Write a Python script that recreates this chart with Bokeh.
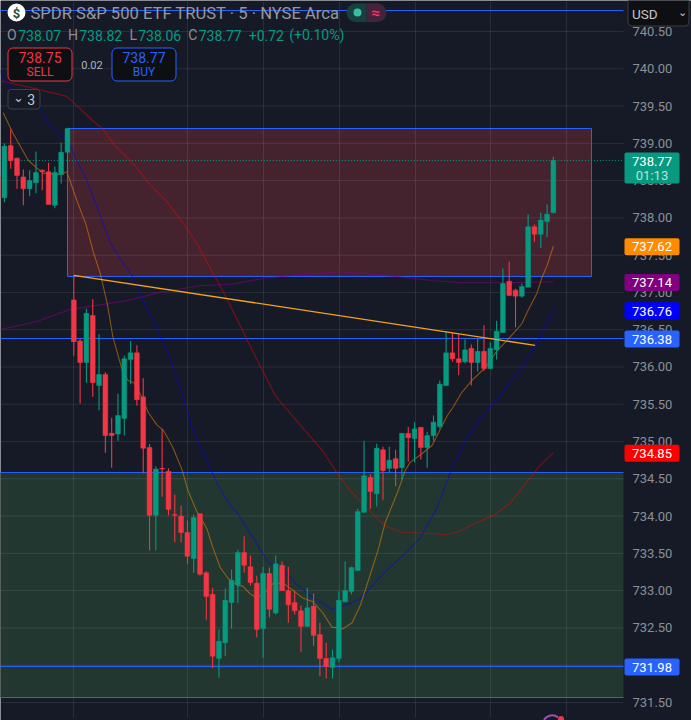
from bokeh.plotting import figure
from bokeh.embed import file_html
from bokeh.resources import INLINE
from bokeh.models import (Range1d, LinearAxis, FixedTicker, NumeralTickFormatter, Label, BoxAnnotation,
                          ColumnDataSource)

FONT = "Roboto"
BG = "#151a26"
GREEN = "#089981"
RED = "#f23645"
BLUE = "#2962ff"

# bar index -1 .. 87
opens = [738.55,738.27,738.97,738.80,738.55,738.39,738.47,738.64,738.62,738.17,738.58,738.88,
         736.90,736.35,736.06,736.69,735.75,735.90,735.11,735.10,735.31,736.10,736.19,735.60,
         734.92,734.01,734.64,734.60,734.02,734.00,733.78,733.43,734.03,733.24,732.95,732.09,
         732.30,732.84,733.08,733.51,733.32,733.10,732.49,733.23,732.70,733.34,733.00,732.84,
         732.73,732.52,732.79,732.41,732.09,731.97,732.09,732.85,732.99,733.27,734.05,734.52,
         734.30,734.89,734.64,734.77,734.65,735.11,735.04,735.19,734.92,735.08,735.20,735.75,
         736.19,736.11,736.07,736.25,736.06,736.21,735.98,736.23,736.46,737.15,737.03,736.95,
         737.07,737.88,737.78,737.95,738.07]
highs = [738.61,739.00,739.19,738.81,738.65,738.64,738.89,738.65,738.74,738.69,739.01,739.21,
         737.23,736.38,736.78,736.91,736.44,735.93,735.32,735.64,736.15,736.35,736.29,735.85,
         734.97,734.67,735.17,734.64,734.29,734.14,733.94,734.02,734.03,733.26,733.04,732.48,
         733.03,733.28,733.55,733.73,733.47,733.20,733.32,733.31,733.47,733.39,733.32,733.00,
         732.80,733.04,732.96,732.57,732.30,732.21,732.99,733.39,733.32,734.10,735.01,734.56,
         734.97,734.93,734.93,734.89,735.11,735.20,735.26,735.19,735.13,735.35,735.82,736.48,
         736.46,736.44,736.37,736.30,736.38,736.56,736.33,736.62,737.32,737.41,737.05,737.12,
         738.05,737.91,738.07,738.18,738.82]
lows = [738.23,738.21,738.66,738.39,738.17,738.29,738.33,738.37,738.18,738.13,738.46,738.58,
        736.15,735.51,735.79,735.60,735.42,734.85,734.65,735.01,735.08,735.77,735.48,734.57,
        733.54,733.54,734.26,734.01,733.65,733.65,733.36,733.24,733.20,732.61,731.96,731.83,
        732.12,732.49,732.83,733.24,733.07,732.37,732.10,732.64,732.68,733.00,732.57,732.68,
        732.18,732.52,732.26,731.85,731.82,731.82,732.04,732.85,732.95,733.27,734.05,734.10,
        734.13,734.22,734.58,734.40,734.49,734.73,734.72,734.76,734.65,735.01,735.17,735.75,
        736.07,735.89,736.05,735.75,735.94,735.95,735.98,736.10,736.46,736.95,736.53,736.93,
        737.07,737.68,737.60,737.74,738.06]
closes = [738.27,738.96,738.77,738.57,738.39,738.50,738.61,738.62,738.18,738.61,738.88,739.20,
          736.34,736.06,736.72,735.79,735.90,735.08,735.08,735.35,736.11,736.19,735.56,734.91,
          734.01,734.63,734.63,734.09,734.01,733.78,733.46,733.98,733.22,732.92,732.12,732.32,
          732.87,733.14,733.51,733.34,733.11,732.48,733.23,732.75,733.36,733.00,732.81,732.73,
          732.52,732.77,732.40,732.09,731.98,732.10,732.87,733.00,733.31,734.06,734.54,734.33,
          734.91,734.61,734.75,734.64,735.11,735.05,735.17,734.92,735.08,735.26,735.77,736.19,
          736.11,736.06,736.23,736.06,736.21,735.98,736.25,736.48,737.12,736.96,736.95,737.08,
          737.88,737.78,737.97,738.05,738.77]

orange_x = [-0.2,1.4,3.8,6.1,8.8,9.9,11.5,12.9,14.1,15.2,16.3,17.2,18.7,19.6,20.7,21.8,22.8,24.2,25.2,26.7,28.2,29.1,30.5,32.1,32.9,34.2,35.5,36.9,37.8,38.9,40.1,41.6,42.6,44.2,45.8,47.3,48.9,50.4,51.9,53.7,55.1,56.4,59.2,60.3,61.1,62.4,63.5,64.3,66.2,67.8,69.0,70.2,71.1,72.5,74.1,76.2,78.1,79.7,82.0,83.0,84.4,85.2,86.0,87.0]
orange_y = [739.41,739.13,738.77,738.60,738.58,738.62,738.23,737.92,737.54,737.25,736.85,736.40,735.95,735.82,735.78,735.59,735.39,735.22,735.15,734.92,734.61,734.34,734.06,733.83,733.61,733.31,733.16,733.07,733.06,732.96,732.90,733.00,733.10,733.10,733.00,732.90,732.85,732.71,732.51,732.49,732.57,732.80,733.54,733.90,734.07,734.34,734.61,734.72,734.84,734.95,735.15,735.35,735.46,735.66,735.82,735.99,736.22,736.36,736.58,736.76,736.99,737.20,737.36,737.62]
blue_x = [-0.7,0.1,2.5,5.7,6.9,8.4,9.9,11.2,13.1,14.7,16.8,18.8,20.2,22.0,23.6,25.8,28.2,29.8,32.1,33.7,35.8,37.0,39.7,41.8,43.7,46.9,48.9,51.9,54.8,56.4,60.2,64.0,65.9,68.6,71.0,73.3,75.1,77.5,80.1,82.5,84.4,85.7,87.0]
blue_y = [739.98,739.84,739.64,739.44,739.28,739.15,739.07,738.81,738.50,738.14,737.66,737.39,737.23,736.89,736.62,736.22,735.64,735.15,734.75,734.44,734.14,734.03,733.67,733.38,733.31,733.04,732.91,732.75,732.83,732.89,733.24,733.54,733.71,734.12,734.65,735.05,735.28,735.51,735.79,736.05,736.32,736.56,736.76]
red_x = [-0.7,4.5,9.9,12.3,13.9,15.5,17.5,20.7,22.8,25.8,27.8,30.5,32.6,35.0,38.9,42.9,46.9,50.4,52.7,54.8,57.5,60.3,63.0,67.5,69.8,71.9,73.8,77.5,80.1,81.7,84.9,87.0]
red_y = [739.84,739.74,739.63,739.44,739.31,739.20,738.97,738.70,738.47,738.21,737.99,737.66,737.33,736.96,736.29,735.62,735.22,734.88,734.58,734.34,734.10,733.87,733.78,733.77,733.75,733.79,733.87,734.01,734.17,734.34,734.68,734.85]
purple_x = [-0.7,5.2,7.7,10.4,14.1,19.4,24.7,31.0,35.8,41.3,46.9,53.2,58.7,62.7,67.5,72.7,78.1,87.0]
purple_y = [736.50,736.61,736.69,736.77,736.82,736.89,737.00,737.09,737.11,737.19,737.24,737.28,737.24,737.21,737.16,737.13,737.13,737.14]

trend_x = [11.0, 84.1]
trend_y = [737.23, 736.29]
zone_red = (10.0, 93.04, 739.199, 737.214)
zone_green_top, zone_green_bottom = 734.585, 731.566
h_levels = [740.782, 736.382, 734.585, 731.982, 731.566]
last_line = 738.77
time_grid = [10.95, 29.02, 41.06, 53.11, 65.15, 77.04, 89.08]
price_ticks = [731.5 + 0.5 * k for k in range(19)]

price_tags = [(737.62, "737.62", "#ff8c00"), (737.14, "737.14", "#800080"), (736.76, "736.76", "#0000ff"),
              (736.38, "736.38", "#2962ff"), (734.85, "734.85", "#ff0000"), (731.98, "731.98", "#2962ff")]

CHART_END = 98.11
p = figure(width=691, height=720, output_backend="svg", toolbar_location=None,
           x_range=Range1d(-0.618, 108.89), y_range=Range1d(731.258, 740.916),
           min_border_left=0, min_border_top=0, min_border_bottom=0, min_border_right=0,
           background_fill_color=BG, border_fill_color=BG, outline_line_color=None,
           x_axis_location=None, y_axis_location=None)
p.styles = {"position": "absolute", "left": "0px", "top": "0px"}
p.xgrid.visible = False
p.ygrid.visible = False

ax = LinearAxis(ticker=FixedTicker(ticks=price_ticks), formatter=NumeralTickFormatter(format="0.00"),
                axis_line_color=None, major_tick_line_color=None, minor_tick_line_color=None,
                major_label_text_color="#8c8f96", major_label_text_font=FONT, major_label_text_font_size="13px",
                major_label_standoff=9, fixed_location=CHART_END)
ax.major_tick_in = 0
ax.major_tick_out = 0
p.add_layout(ax, "right")

# zones below everything
p.quad(left=[-5], right=[CHART_END], top=[zone_green_top], bottom=[zone_green_bottom], fill_color="#22372f", line_color=None)
z = zone_red
p.quad(left=[z[0]], right=[z[1]], top=[z[2]], bottom=[z[3]], fill_color="#44232e", line_color=None)

# grid
p.segment(x0=time_grid, x1=time_grid, y0=[731.3]*len(time_grid), y1=[740.9]*len(time_grid), line_color="#ffffff", line_alpha=0.09, line_width=1)
p.segment(x0=[-5]*len(price_ticks), x1=[CHART_END]*len(price_ticks), y0=price_ticks, y1=price_ticks, line_color="#ffffff", line_alpha=0.09, line_width=1)

# zone outline and levels
p.segment(x0=[-5]*len(h_levels), x1=[CHART_END]*len(h_levels), y0=h_levels, y1=h_levels, line_color=BLUE, line_width=1)
p.quad(left=[z[0]], right=[z[1]], top=[z[2]], bottom=[z[3]], fill_color=None, line_color=BLUE, line_width=1)

# moving averages
p.line(purple_x, purple_y, line_color="#800080", line_alpha=0.6, line_width=1.2)
p.line(red_x, red_y, line_color="#ff0000", line_alpha=0.42, line_width=1.2)
p.line(blue_x, blue_y, line_color="#0000ff", line_alpha=0.45, line_width=1.2)
p.line(orange_x, orange_y, line_color="#ff8c00", line_alpha=0.5, line_width=1.1)

# last price line
p.line([-5, CHART_END], [last_line, last_line], line_color=GREEN, line_width=1, line_dash="1 2")

# candles
idx = list(range(-1, len(opens) - 1))
cols = [GREEN if c >= o else RED for o, c in zip(opens, closes)]
src = ColumnDataSource(dict(x=idx, o=opens, h=highs, l=lows, c=closes, top=[max(a, b) for a, b in zip(opens, closes)],
                            bot=[min(a, b) for a, b in zip(opens, closes)], col=cols))
p.segment(x0="x", x1="x", y0="h", y1="l", line_color="col", line_width=1.1, source=src)
p.vbar(x="x", width=0.76, top="top", bottom="bot", fill_color="col", line_color="col", line_width=0.5, source=src)

# trendline
p.line(trend_x, trend_y, line_color="#f7a21b", line_width=1.3)

# decoration at the bottom edge
p.arc(x=[86.8], y=[731.2], radius=[9.5], radius_units="screen", start_angle=[0.9], end_angle=[2.6],
      line_color="#9c4fb0", line_width=2)

SCREEN = dict(x_units="screen", y_units="screen")

def rect(l, r, t, b, fill, line=None, radius=0, lw=1):
    p.add_layout(BoxAnnotation(left=l, right=r, top=720 - t, bottom=720 - b, left_units="screen", right_units="screen",
                               top_units="screen", bottom_units="screen", fill_color=fill, fill_alpha=1,
                               line_color=line, line_alpha=1 if line else 0, line_width=lw, border_radius=radius))

def txt(x, y, s, color, size=13, align="left", weight="normal"):
    p.add_layout(Label(x=x, y=720 - y, text=s, text_color=color, text_font=FONT, text_font_size=f"{size}px",
                       text_align=align, text_baseline="middle", text_font_style=weight, **SCREEN))

rect(557.5, 563.5, 715.5, 721.5, RED, None, 3)

# price tags
for val, s, col in price_tags:
    py = 68.3 + (740 - val) * 74.55 + 0.4
    rect(624, 679, py - 8.5, py + 8.5, col, radius=2)
    txt(651.5, py + 0.3, s, "#ffffff", 13, "center")
rect(624, 679, 152, 183, GREEN, radius=2)
txt(651.5, 161, "738.77", "#ffffff", 13, "center")
txt(651.5, 175, "01:13", "#b6e4da", 13, "center")
# USD button
rect(627.5, 688.5, -3, 25.5, "#0e0f13", "#3c3d42", 4)
txt(631.5, 13, "USD", "#c4c6cb", 13.5)
txt(681.5, 12, "⌄", "#c4c6cb", 11, "center")

# header
rect(7, 25, 3, 21, "#ffffff", None, 9)
txt(16, 12.5, "$", "#1e4d3c", 13, "center", "bold")
txt(30, 13, "SPDR S&P 500 ETF TRUST · 5 · NYSE Arca", "#9598a1", 16.6)
rect(346, 366, 3, 21.5, "#17403f", None, (9, 0, 0, 9))
rect(366, 386, 3, 21.5, "#43243a", None, (0, 9, 9, 0))
rect(353, 361, 8, 16, "#3dbba3", None, 4)
txt(375, 12, "≈", "#f0386b", 15, "center", "bold")
for s, c, x in [("O", "#8c8f96", 6.5), ("738.07", GREEN, 17.7), ("H", "#8c8f96", 67.5), ("738.82", GREEN, 78.7),
                ("L", "#8c8f96", 129), ("738.06", GREEN, 137.7), ("C", "#8c8f96", 187.7), ("738.77", GREEN, 198.2),
                ("+0.72", GREEN, 248.2), ("(+0.10%)", GREEN, 288.7)]:
    txt(x, 34.5, s, c, 14)

rect(7.5, 71.5, 47.5, 80.5, "#0d0f13", RED, 5)
txt(39.5, 57, "738.75", RED, 14, "center")
txt(39.5, 71, "SELL", RED, 12, "center")
txt(91.5, 64.5, "0.02", "#b2b5be", 11, "center")
rect(111.5, 175.5, 47.5, 80.5, "#0d0f13", BLUE, 5)
txt(143.5, 57, "738.77", BLUE, 14, "center")
txt(143.5, 71, "BUY", BLUE, 12, "center")
rect(7.5, 39.5, 89, 108.5, BG, "#3c3f46", 3)
txt(18, 97, "⌄", "#c4c6cb", 13, "center")
txt(30.7, 99, "3", "#c4c6cb", 14, "center")

open("out.html", "w").write(file_html(p, INLINE))
